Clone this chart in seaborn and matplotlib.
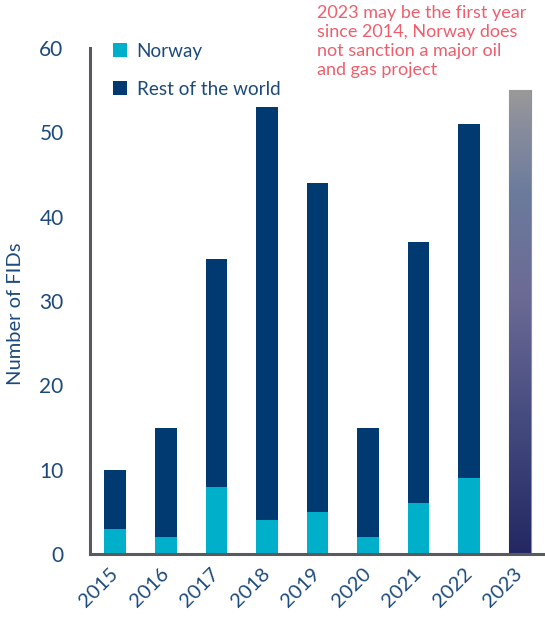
import numpy as np
import pandas as pd
import matplotlib
matplotlib.use("Agg")
import matplotlib.pyplot as plt
from matplotlib.lines import Line2D
from matplotlib.colors import LinearSegmentedColormap
import seaborn as sns

# Final investment decisions per year
years = ["2015", "2016", "2017", "2018", "2019", "2020", "2021", "2022", "2023"]
norway = [3, 2, 8, 4, 5, 2, 6, 9, 0]
rest_of_world = [7, 13, 27, 49, 39, 13, 31, 42, 55]
y_ticks = [0, 10, 20, 30, 40, 50, 60]

NORWAY_COLOR = "#00afc9"
REST_COLOR = "#003a70"
TEXT_COLOR = "#1c4a7c"
SPINE_COLOR = "#575b5e"
NOTE_COLOR = "#ef5e6c"

sns.set_theme(style="white")
plt.rcParams["font.family"] = ["Lato", "DejaVu Sans"]

df = pd.DataFrame({"year": years, "norway": norway, "rest": rest_of_world})
df["total"] = df["norway"] + df["rest"]

fig = plt.figure(figsize=(5.45, 6.2), dpi=100)
ax = fig.add_axes([90 / 545, 1 - 554 / 620, 455 / 545, (554 - 48) / 620])

bar_w = 0.43
sns.barplot(data=df, x="year", y="total", color=REST_COLOR, width=bar_w,
            saturation=1, ax=ax, linewidth=0)
n_total = len(ax.patches)
sns.barplot(data=df, x="year", y="norway", color=NORWAY_COLOR, width=bar_w,
            saturation=1, ax=ax, linewidth=0)

# Outlook year drawn with a fading gradient fill
proj = ax.patches[n_total - 1]
proj.set_facecolor("none")
proj.set_edgecolor("#8e8ea6")
proj.set_linewidth(0.8)
x0 = proj.get_x()
x1 = x0 + proj.get_width()
h = proj.get_height()
grad_cmap = LinearSegmentedColormap.from_list(
    "outlook", [(0.0, "#232862"), (0.3, "#474c80"), (0.55, "#6b6a95"),
                (0.78, "#6c7b9c"), (0.93, "#8a8e9c"), (1.0, "#9a9a9a")])
grad = np.linspace(0, 1, 256).reshape(-1, 1)
img = ax.imshow(grad, cmap=grad_cmap, origin="lower", aspect="auto",
                extent=[x0, x1, 0, h], zorder=proj.get_zorder())
img.set_clip_path(proj)

ax.set_xlim(-0.5, 8.5)
ax.set_ylim(0, 60)
ax.set_yticks(y_ticks)
ax.set_xlabel("")
ax.set_ylabel("Number of FIDs", fontsize=14.5, color=TEXT_COLOR)
ax.yaxis.set_label_coords(-0.146, 0.475)

ax.tick_params(axis="y", length=0, pad=19, labelsize=15, labelcolor=TEXT_COLOR)
ax.tick_params(axis="x", length=0, pad=12, labelsize=14.5, labelcolor=TEXT_COLOR)
for lbl in ax.get_xticklabels():
    lbl.set_rotation(45)
    lbl.set_ha("right")
    lbl.set_va("center")
    lbl.set_rotation_mode("anchor")

for side in ["top", "right"]:
    ax.spines[side].set_visible(False)
for side in ["left", "bottom"]:
    ax.spines[side].set_color(SPINE_COLOR)
    ax.spines[side].set_linewidth(2.2)

handles = [
    Line2D([], [], marker="s", linestyle="none", markersize=9.5,
           markerfacecolor=NORWAY_COLOR, markeredgewidth=0, label="Norway"),
    Line2D([], [], marker="s", linestyle="none", markersize=9.5,
           markerfacecolor=REST_COLOR, markeredgewidth=0, label="Rest of the world"),
]
leg = ax.legend(handles=handles, loc="upper left", bbox_to_anchor=(0.03, 1.025),
                frameon=False, fontsize=13.6, labelspacing=1.1, handlelength=0.9,
                handletextpad=0.45, borderaxespad=0)
for t in leg.get_texts():
    t.set_color(TEXT_COLOR)

fig.text(317 / 545, 1 - 5 / 620,
         "2023 may be the first year\nsince 2014, Norway does\n"
         "not sanction a major oil\nand gas project",
         ha="left", va="top", fontsize=13, color=NOTE_COLOR, linespacing=1.22)

fig.savefig("out.png", dpi=100, facecolor="white")
